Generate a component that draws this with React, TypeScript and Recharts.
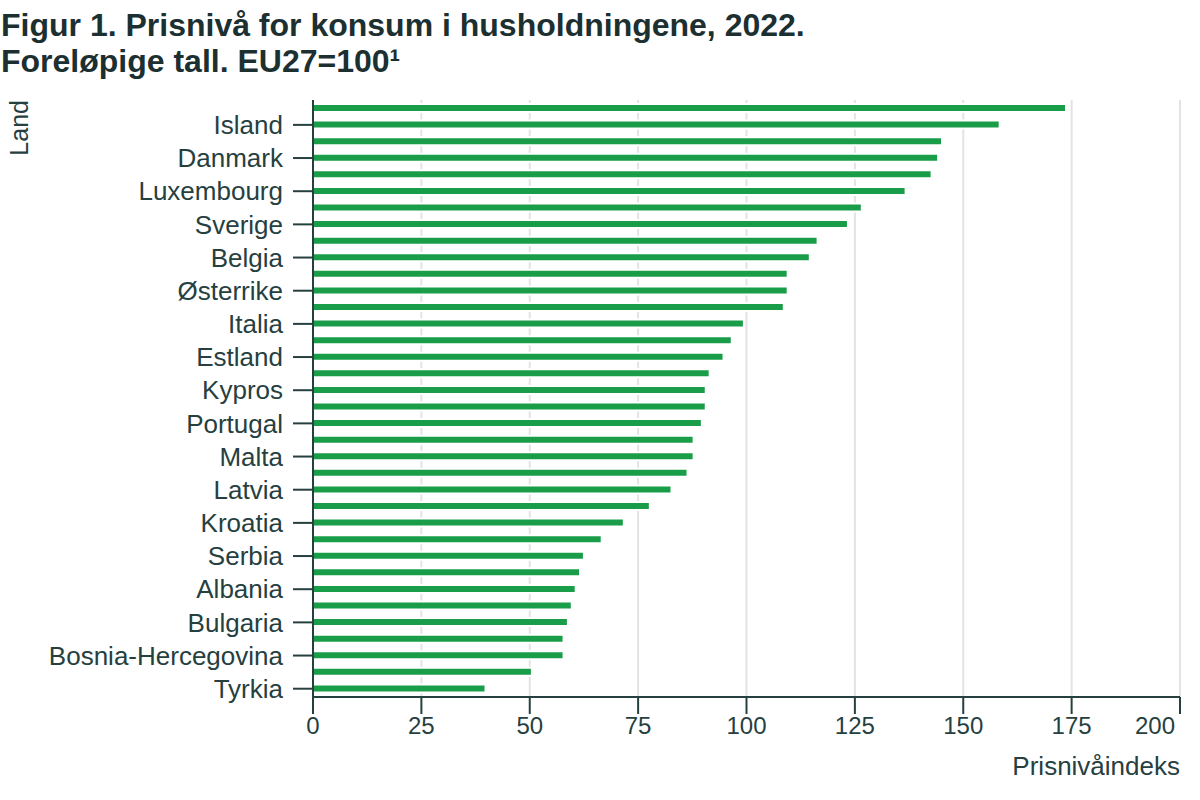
import React from "react";
import { BarChart, Bar, XAxis, YAxis, CartesianGrid } from "recharts";

const countries = [
    "Sveits", "Island", "Norge", "Danmark", "Irland", "Luxembourg",
    "Finland", "Sverige", "Nederland", "Belgia", "Frankrike", "Østerrike",
    "Tyskland", "Italia", "Spania", "Estland", "Slovenia", "Kypros",
    "Hellas", "Portugal", "Slovakia", "Malta", "Tsjekkia", "Latvia",
    "Litauen", "Kroatia", "Ungarn", "Serbia", "Montenegro", "Albania",
    "Polen", "Bulgaria", "Romania", "Bosnia-Hercegovina", "Nord-Makedonia", "Tyrkia",
];

const priceLevel = [
    173.7, 158.4, 145.1, 144.2, 142.7, 136.7,
    126.6, 123.4, 116.4, 114.6, 109.5, 109.5,
    108.6, 99.4, 96.6, 94.7, 91.5, 90.6,
    90.6, 89.7, 87.8, 87.8, 86.4, 82.7,
    77.7, 71.7, 66.6, 62.5, 61.6, 60.6,
    59.7, 58.8, 57.8, 57.8, 50.5, 39.8,
];

const xTicks = [0, 25, 50, 75, 100, 125, 150, 175, 200];

const data = countries.map((land, i) => ({ land, verdi: priceLevel[i] }));

const INK = "#26403f";
const FONT = "'Liberation Sans', Arial, sans-serif";

// only every second country gets a label and a tick mark
const CountryTick = ({ x, y, payload }: any) => {
    if (payload.index % 2 === 0) return null;
    return (
        <g>
            <line x1={x + 10} x2={x + 30} y1={y} y2={y} stroke={INK} strokeWidth={2} />
            <text x={x} y={y} dy="0.355em" textAnchor="end" fill={INK} fontSize={26} fontFamily={FONT}>
                {payload.value}
            </text>
        </g>
    );
};

const ValueTick = ({ x, y, payload }: any) => {
    const last = payload.value === 200;
    return (
        <text x={last ? x - 5 : x} y={y} dy="0.71em" textAnchor={last ? "end" : "middle"} fill={INK} fontSize={24} fontFamily={FONT}>
            {payload.value}
        </text>
    );
};

const LandLabel = ({ viewBox }: any) => (
    <text transform={`translate(${viewBox.x + 28},${viewBox.y}) rotate(-90)`} textAnchor="end" fill={INK} fontSize={25} fontFamily={FONT}>
        Land
    </text>
);

const IndexLabel = ({ viewBox }: any) => (
    <text x={viewBox.x + viewBox.width} y={viewBox.y + 78} textAnchor="end" fill={INK} fontSize={26} fontFamily={FONT}>
        Prisnivåindeks
    </text>
);

export default function App() {
    return (
        <div style={{ position: "absolute", left: 0, top: 0, width: 1200, height: 800, background: "#fff" }}>
            <div style={{ position: "absolute", left: 1, top: 7, fontFamily: FONT, fontWeight: "bold", fontSize: 32, lineHeight: "36px", color: "#1c2f31", whiteSpace: "nowrap" }}>
                <div>Figur 1. Prisnivå for konsum i husholdningene, 2022.</div>
                <div>Foreløpige tall. EU27=100¹</div>
            </div>
            <BarChart
                width={1200}
                height={800}
                data={data}
                layout="vertical"
                margin={{ top: 100, right: 20, bottom: 23, left: 0 }}
            >
                <CartesianGrid horizontal={false} stroke="#e3e3e3" strokeWidth={2} />
                <XAxis
                    type="number"
                    domain={[0, 200]}
                    ticks={xTicks}
                    interval={0}
                    height={80}
                    tickSize={17}
                    tickMargin={3}
                    axisLine={{ stroke: INK, strokeWidth: 2 }}
                    tickLine={{ stroke: INK, strokeWidth: 2 }}
                    tick={<ValueTick />}
                    label={<IndexLabel />}
                />
                <YAxis
                    type="category"
                    dataKey="land"
                    width={313}
                    interval={0}
                    tickSize={20}
                    tickMargin={10}
                    tickLine={false}
                    axisLine={{ stroke: INK, strokeWidth: 2 }}
                    tick={<CountryTick />}
                    label={<LandLabel />}
                />
                <Bar dataKey="verdi" fill="#1a9d49" barSize={8} stroke="#fff" strokeWidth={2} isAnimationActive={false} />
            </BarChart>
        </div>
    );
}
